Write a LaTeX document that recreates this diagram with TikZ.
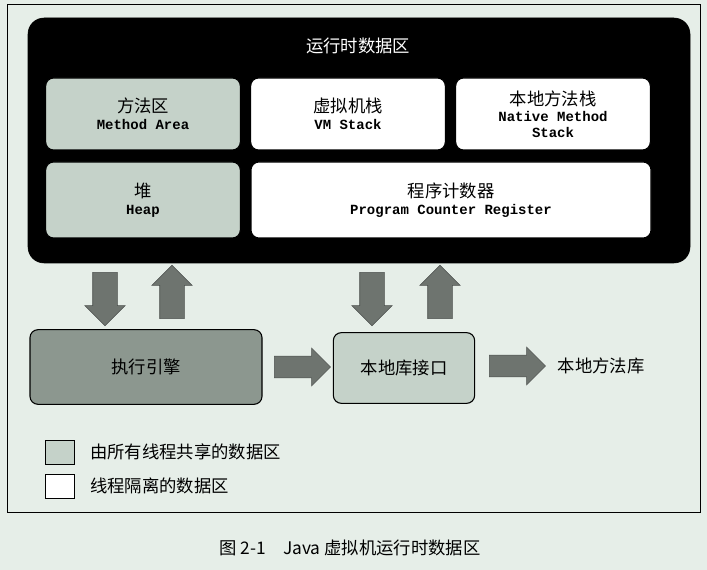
\documentclass[tikz,border=0pt]{standalone}
\usepackage{fontspec}
\setmainfont{Liberation Serif}
\setmonofont{Liberation Mono}
\newfontfamily\cjk{Noto Sans CJK SC}
\newcommand\engf{\ttfamily\bfseries\fontsize{10.5}{12}\selectfont}
\usetikzlibrary{shapes.arrows, positioning}
\definecolor{paper}{HTML}{E6EEE8}
\definecolor{shared}{HTML}{C5D2C9}
\definecolor{engine}{HTML}{8C978F}
\definecolor{arrowgray}{HTML}{6E746F}
\tikzset{
  area/.style={draw=black, rounded corners=6pt, line width=0.8pt, align=center, font=\cjk\fontsize{13}{15}\selectfont},
  blockarrow/.style={single arrow, fill=arrowgray, draw=arrowgray!70!black, minimum height=40pt, inner sep=0pt, inner ysep=9pt, single arrow head extend=6pt}
}
\begin{document}
\begin{tikzpicture}[x=0.75pt, y=-0.75pt]
\useasboundingbox[fill=paper] (0,0) rectangle (707,570);
\draw[line width=0.6pt] (7,4) rectangle (700,512);
% runtime data area
\draw[fill=black, rounded corners=12pt] (28,18) rectangle (690,263);
\node[text=white, font=\cjk\fontsize{13}{15}\selectfont] (title) at (358,46) {运行时数据区};
\node[area, fill=shared, minimum width=146pt, minimum height=54pt] (method) at (143,114) {方法区\\[-2pt]{\engf Method Area}};
\node[area, fill=white, minimum width=146pt, minimum height=54pt] (vmstack) at (348,114) {虚拟机栈\\[-2pt]{\engf VM Stack}};
\node[area, fill=white, minimum width=146pt, minimum height=54pt] (native) at (553,114) {本地方法栈\\[-3pt]{\engf Native Method}\\[-3pt]{\engf Stack}};
\node[area, fill=shared, minimum width=146pt, minimum height=57pt] (heap) at (143,200) {堆\\[-2pt]{\engf Heap}};
\node[area, fill=white, minimum width=300pt, minimum height=57pt] (pc) at (451,200) {程序计数器\\[-2pt]{\engf Program Counter Register}};
% engine and native interface
\node[area, fill=engine, minimum width=174pt, minimum height=56pt] (engine) at (146,367) {执行引擎};
\node[area, fill=shared, minimum width=106pt, minimum height=53pt] (jni) at (404,368) {本地库接口};
\node[font=\cjk\fontsize{13}{15}\selectfont, anchor=west] (lib) at (553,366) {本地方法库};
\node[blockarrow, rotate=-90] (d1) at (105,293) {};
\node[blockarrow, rotate=90] (u1) at (172,298) {};
\node[blockarrow, rotate=-90] (d2) at (372,293) {};
\node[blockarrow, rotate=90] (u2) at (440,298) {};
\node[blockarrow, minimum height=42pt, inner ysep=8pt] (r1) at (297,367) {};
\node[blockarrow, minimum height=42pt, inner ysep=8pt] (r2) at (512,366) {};
% legend
\node[draw, fill=shared, minimum width=22pt, minimum height=18pt, anchor=west] (lshared) at (45,452) {};
\node[font=\cjk\fontsize{13}{15}\selectfont, right=8pt of lshared] (tshared) {由所有线程共享的数据区};
\node[draw, fill=white, minimum width=22pt, minimum height=18pt, anchor=west] (lpriv) at (45,486) {};
\node[font=\cjk\fontsize{13}{15}\selectfont, right=8pt of lpriv] (tpriv) {线程隔离的数据区};
\node[font=\cjk\fontsize{13}{15}\selectfont] (caption) at (350,548) {图 2-1\quad Java 虚拟机运行时数据区};
\end{tikzpicture}
\end{document}
